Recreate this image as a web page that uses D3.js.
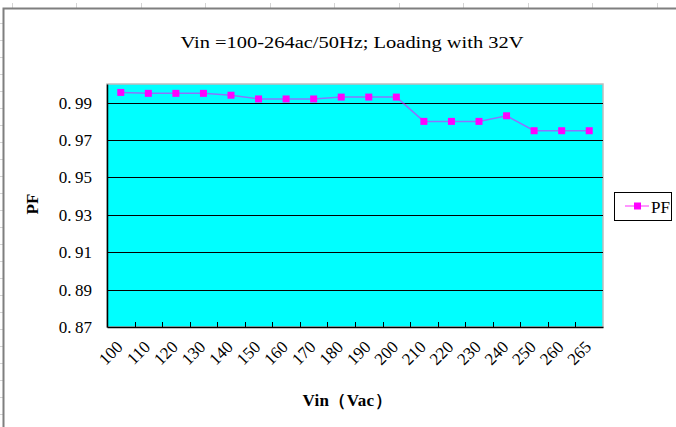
<!DOCTYPE html>
<html>
<head>
<meta charset="utf-8">
<script src="https://cdn.jsdelivr.net/npm/d3@7"></script>
<style>
  body { margin: 0; background: #fff; }
  svg text { font-family: "Liberation Serif", "DejaVu Serif", serif; fill: #000; }
</style>
</head>
<body>
<svg id="chart" width="676" height="427"></svg>
<script>
// chart data
var vinLabels = ['100','110','120','130','140','150','160','170','180','190','200','210','220','230','240','250','260','265'];
var pfValues = [0.9955,0.995,0.995,0.995,0.994,0.992,0.992,0.992,0.993,0.993,0.993,0.980,0.980,0.980,0.983,0.975,0.975,0.975];
var yTicks = [0.87,0.89,0.91,0.93,0.95,0.97,0.99];
var seriesName = 'PF';

var frame = { left: 107, right: 603, top: 84, bottom: 327 };
var svg = d3.select('#chart');

// faint spreadsheet cell marks behind the chart object
var sheet = svg.append('g').attr('stroke', '#d4d4d4').attr('stroke-width', 1);
d3.range(11.5, 676, 64.5).forEach(function(x) {
  sheet.append('line').attr('x1', Math.round(x)+0.5).attr('x2', Math.round(x)+0.5).attr('y1', 3).attr('y2', 8);
});
d3.range(23, 427, 17).forEach(function(y) {
  sheet.append('line').attr('x1', 0).attr('x2', 3).attr('y1', y+0.5).attr('y2', y+0.5);
});

// chart object border
svg.append('rect').attr('x', 3.5).attr('y', 8.5).attr('width', 700).attr('height', 440)
  .attr('fill', '#fff').attr('stroke', '#7f7f7f').attr('stroke-width', 2);

var x = d3.scaleBand().domain(vinLabels).range([frame.left, frame.right]).padding(0);
var y = d3.scaleLinear().domain([0.87, 1.0]).range([frame.bottom, frame.top]);

// plot area
svg.append('rect').attr('x', frame.left).attr('y', frame.top)
  .attr('width', frame.right - frame.left).attr('height', frame.bottom - frame.top)
  .attr('fill', '#00ffff').attr('stroke', '#bdbdbd').attr('stroke-width', 1.5);

// gridlines
svg.append('g').selectAll('line').data(yTicks.slice(1)).join('line')
  .attr('x1', frame.left).attr('x2', frame.right)
  .attr('y1', d => Math.round(y(d)) + 0.5).attr('y2', d => Math.round(y(d)) + 0.5)
  .attr('stroke', '#000').attr('stroke-width', 1);

// y axis
var yAxis = svg.append('g').attr('transform', 'translate(' + frame.left + ',0)')
  .call(d3.axisLeft(y).tickValues(yTicks).tickSize(0).tickPadding(15)
    .tickFormat(d => d3.format('.2f')(d).replace('.', '.\u2009')));
yAxis.select('.domain').attr('stroke', '#000').attr('stroke-width', 1.5);
yAxis.selectAll('text').attr('font-size', 17).attr('font-family', '"Liberation Serif", serif').attr('fill', '#333');

// x axis, ticks between categories pointing up into the plot
var xAxis = svg.append('g').attr('transform', 'translate(0,' + frame.bottom + ')')
  .call(d3.axisBottom(x).tickSize(0).tickPadding(0));
xAxis.select('.domain').attr('stroke', '#000').attr('stroke-width', 1.5);
xAxis.selectAll('text')
  .attr('font-size', 17).attr('fill', '#333').attr('font-family', '"Liberation Serif", serif')
  .attr('text-anchor', 'end').attr('dy', 0).attr('y', 0)
  .attr('transform', 'translate(3,21) rotate(-45)');
xAxis.append('g').selectAll('line').data(vinLabels.slice(1)).join('line')
  .attr('x1', d => Math.round(x(d)) + 0.5).attr('x2', d => Math.round(x(d)) + 0.5)
  .attr('y1', 0).attr('y2', -5).attr('stroke', '#000');

// series
var cx = d => x(d) + x.bandwidth() / 2;
svg.append('path').datum(pfValues)
  .attr('d', d3.line().x((d, i) => cx(vinLabels[i])).y(d => y(d)))
  .attr('fill', 'none').attr('stroke', '#ff00ff').attr('stroke-opacity', 0.55).attr('stroke-width', 1.5);
svg.append('g').selectAll('rect').data(pfValues).join('rect')
  .attr('x', (d, i) => cx(vinLabels[i]) - 3.5).attr('y', d => y(d) - 3.5)
  .attr('width', 7).attr('height', 7).attr('fill', '#ff00ff');

// titles
svg.append('text').attr('x', 352).attr('y', 48).attr('text-anchor', 'middle')
  .attr('font-size', 17).attr('fill', '#222')
  .attr('textLength', 343).attr('lengthAdjust', 'spacingAndGlyphs')
  .text('Vin =100-264ac/50Hz; Loading with 32V');
svg.append('text').attr('x', 347).attr('y', 406).attr('text-anchor', 'middle')
  .attr('font-size', 17).attr('font-weight', 'bold')
  .attr('textLength', 89).attr('lengthAdjust', 'spacing')
  .text('Vin（Vac）');
svg.append('text').attr('transform', 'translate(38,204) rotate(-90)').attr('text-anchor', 'middle')
  .attr('font-size', 17).attr('font-weight', 'bold')
  .text('PF');

// legend
var lg = svg.append('g').attr('transform', 'translate(614,192)');
lg.append('rect').attr('x', 0.5).attr('y', 0.5).attr('width', 57).attr('height', 28)
  .attr('fill', '#fff').attr('stroke', '#000');
lg.append('line').attr('x1', 11).attr('x2', 35).attr('y1', 14).attr('y2', 14)
  .attr('stroke', '#ff00ff').attr('stroke-opacity', 0.55).attr('stroke-width', 1.5);
lg.append('rect').attr('x', 20).attr('y', 10.5).attr('width', 7).attr('height', 7).attr('fill', '#ff00ff');
lg.append('text').attr('x', 37).attr('y', 21).attr('font-size', 17).attr('fill', '#333').text(seriesName);
</script>
</body>
</html>
